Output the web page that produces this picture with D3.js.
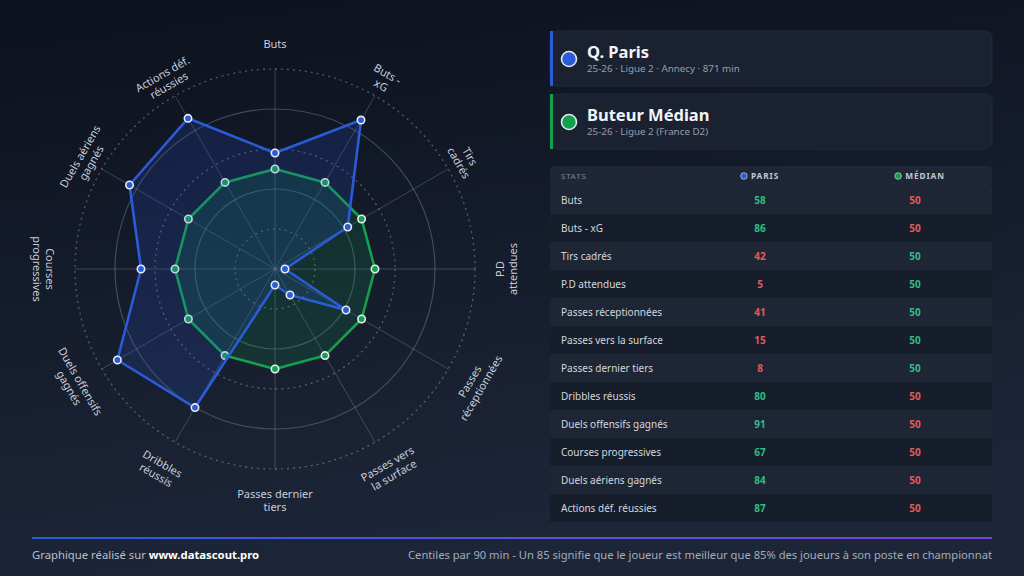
<!DOCTYPE html>
<html>
<head>
<meta charset="utf-8">
<script src="https://cdn.jsdelivr.net/npm/d3@7"></script>
<style>
  html, body { margin: 0; padding: 0; background: #131a29; }
  svg { display: block; font-family: "Noto Sans", "Open Sans", sans-serif; }
</style>
</head>
<body>
<svg id="chart" width="1024" height="576"></svg>
<script>
// stats, in the order they go round the radar (clockwise from the top)
var stats = ["Buts", "Buts - xG", "Tirs cadrés", "P.D attendues", "Passes réceptionnées",
  "Passes vers la surface", "Passes dernier tiers", "Dribbles réussis", "Duels offensifs gagnés",
  "Courses progressives", "Duels aériens gagnés", "Actions déf. réussies"];
var radarLabels = [["Buts"], ["Buts -", "xG"], ["Tirs", "cadrés"], ["P.D", "attendues"],
  ["Passes", "réceptionnées"], ["Passes vers", "la surface"], ["Passes dernier", "tiers"],
  ["Dribbles", "réussis"], ["Duels offensifs", "gagnés"], ["Courses", "progressives"],
  ["Duels aériens", "gagnés"], ["Actions déf.", "réussies"]];
var parisValues = [58, 86, 42, 5, 41, 15, 8, 80, 91, 67, 84, 87];
var medianValues = [50, 50, 50, 50, 50, 50, 50, 50, 50, 50, 50, 50];
var ringTicks = [20, 40, 60, 80, 100];

var players = [
  { name: "Q. Paris", sub: "25-26 · Ligue 2 · Annecy · 871 min", color: "#2b5bd6" },
  { name: "Buteur Médian", sub: "25-26 · Ligue 2 (France D2)", color: "#14a04c" }
];

var svg = d3.select("#chart");
var defs = svg.append("defs");

var bg = defs.append("linearGradient").attr("id", "bg").attr("x1", 0).attr("y1", 0).attr("x2", 0.25).attr("y2", 1);
bg.append("stop").attr("offset", "0%").attr("stop-color", "#0c111d");
bg.append("stop").attr("offset", "100%").attr("stop-color", "#1d2639");
svg.append("rect").attr("width", 1024).attr("height", 576).attr("fill", "url(#bg)");

// ---- radar ----
var cx = 275, cy = 269, R = 200;
var r = d3.scaleLinear().domain([0, 100]).range([0, R]);
var angle = d3.scaleLinear().domain([0, stats.length]).range([0, 2 * Math.PI]);

var radar = svg.append("g").attr("transform", "translate(" + cx + "," + cy + ")");

radar.selectAll("circle.ring")
  .data(ringTicks)
  .join("circle")
  .attr("class", "ring")
  .attr("r", function(d) { return r(d); })
  .attr("fill", "none")
  .attr("stroke", function(d, i) { return i % 2 ? "rgba(190,200,215,0.28)" : "rgba(190,200,215,0.38)"; })
  .attr("stroke-width", function(d, i) { return i % 2 ? 1.2 : 1.3; })
  .attr("stroke-dasharray", function(d, i) { return i % 2 ? null : "2,4"; });

radar.selectAll("line.spoke")
  .data(stats)
  .join("line")
  .attr("class", "spoke")
  .attr("x1", 0).attr("y1", 0)
  .attr("x2", function(d, i) { return r(100) * Math.sin(angle(i)); })
  .attr("y2", function(d, i) { return -r(100) * Math.cos(angle(i)); })
  .attr("stroke", "rgba(190,200,215,0.25)")
  .attr("stroke-width", 1);

var radial = d3.lineRadial()
  .angle(function(d, i) { return angle(i); })
  .radius(function(d) { return r(d); })
  .curve(d3.curveLinearClosed);

function drawSeries(values, color, fillOpacity) {
  radar.append("path")
    .attr("d", radial(values))
    .attr("fill", color)
    .attr("fill-opacity", fillOpacity)
    .attr("stroke", color)
    .attr("stroke-width", 2.6)
    .attr("stroke-linejoin", "round");
  radar.append("g").selectAll("circle")
    .data(values)
    .join("circle")
    .attr("cx", function(d, i) { return r(d) * Math.sin(angle(i)); })
    .attr("cy", function(d, i) { return -r(d) * Math.cos(angle(i)); })
    .attr("r", 3.7)
    .attr("fill", color)
    .attr("stroke", "#e8ecf2")
    .attr("stroke-width", 1.6);
}
drawSeries(medianValues, players[1].color, 0.17);
drawSeries(parisValues, players[0].color, 0.18);

// labels, turned along the circle and flipped on the lower half
var labels = radar.selectAll("g.lab")
  .data(radarLabels)
  .join("g")
  .attr("class", "lab")
  .attr("transform", function(d, i) {
    var a = angle(i), deg = a * 180 / Math.PI;
    var rot = (deg >= 90 && deg <= 270) ? deg - 180 : deg;
    return "translate(" + (225 * Math.sin(a)) + "," + (-225 * Math.cos(a)) + ") rotate(" + rot + ")";
  });
labels.selectAll("text")
  .data(function(d) { return d; })
  .join("text")
  .attr("y", function(d, i) { return i * 13; })
  .attr("dy", "0.35em")
  .attr("text-anchor", "middle")
  .attr("fill", "#c9ced8")
  .attr("font-size", 11)
  .text(function(d) { return d; });

// ---- player cards ----
var cards = svg.selectAll("g.card")
  .data(players)
  .join("g")
  .attr("class", "card")
  .attr("transform", function(d, i) { return "translate(550," + (31 + i * 63) + ")"; });
cards.append("rect")
  .attr("width", 442).attr("height", 55).attr("rx", 7)
  .attr("fill", "#1a2131").attr("stroke", "#222a3a");
cards.append("rect")
  .attr("width", 3).attr("height", 55)
  .attr("fill", function(d) { return d.color; });
cards.append("circle")
  .attr("cx", 19).attr("cy", 28).attr("r", 7.5)
  .attr("fill", function(d) { return d.color; })
  .attr("stroke", "#e4e8ee").attr("stroke-width", 1.6);
cards.append("text")
  .attr("x", 37).attr("y", 27)
  .attr("fill", "#f2f4f8").attr("font-size", 16.5).attr("font-weight", 700)
  .text(function(d) { return d.name; });
cards.append("text")
  .attr("x", 37).attr("y", 41)
  .attr("fill", "#959dac").attr("font-size", 9.8)
  .text(function(d) { return d.sub; });

// ---- table ----
var tx0 = 550, tx1 = 992, colParis = 760, colMed = 915;
var rowY = d3.scaleBand().domain(stats).range([186, 522]);

svg.append("rect")
  .attr("x", tx0).attr("y", 166).attr("width", tx1 - tx0).attr("height", 20).attr("rx", 4)
  .attr("fill", "#1f2737");
svg.append("text").attr("x", 561).attr("y", 176).attr("dy", "0.35em")
  .attr("fill", "#7f8898").attr("font-size", 7.8).attr("letter-spacing", 0.9).text("STATS");
var heads = [{ x: colParis, label: "PARIS", color: players[0].color }, { x: colMed + 5, label: "MÉDIAN", color: players[1].color }];
heads.forEach(function(h) {
  var g = svg.append("g").attr("transform", "translate(" + h.x + ",176)");
  var t = g.append("text").attr("x", 5).attr("dy", "0.35em")
    .attr("fill", "#c3c8d2").attr("font-size", 8.3).attr("font-weight", 700).attr("letter-spacing", 0.9)
    .attr("text-anchor", "middle").text(h.label);
  var w = t.node().getComputedTextLength();
  g.append("circle").attr("cx", 5 - w / 2 - 7).attr("cy", 0).attr("r", 3.3)
    .attr("fill", h.color).attr("stroke", "#c3c8d2").attr("stroke-width", 0.8);
});

var rows = svg.selectAll("g.row")
  .data(stats)
  .join("g")
  .attr("class", "row")
  .attr("transform", function(d) { return "translate(0," + rowY(d) + ")"; });
rows.append("rect")
  .attr("x", tx0).attr("width", tx1 - tx0).attr("height", rowY.bandwidth())
  .attr("fill", function(d, i) { return i % 2 ? "#161d2b" : "#1e2535"; });
rows.append("text")
  .attr("x", 561).attr("y", rowY.bandwidth() / 2).attr("dy", "0.35em")
  .attr("fill", "#d3d7df").attr("font-size", 10)
  .text(function(d) { return d; });
rows.append("text")
  .attr("x", colParis).attr("y", rowY.bandwidth() / 2).attr("dy", "0.35em")
  .attr("text-anchor", "middle").attr("font-size", 10).attr("font-weight", 700)
  .attr("fill", function(d, i) { return parisValues[i] >= medianValues[i] ? "#2dbd84" : "#e05c5c"; })
  .text(function(d, i) { return parisValues[i]; });
rows.append("text")
  .attr("x", colMed).attr("y", rowY.bandwidth() / 2).attr("dy", "0.35em")
  .attr("text-anchor", "middle").attr("font-size", 10).attr("font-weight", 700)
  .attr("fill", function(d, i) { return medianValues[i] > parisValues[i] ? "#2dbd84" : "#e05c5c"; })
  .text(function(d, i) { return medianValues[i]; });

// ---- footer ----
var fl = defs.append("linearGradient").attr("id", "foot");
fl.append("stop").attr("offset", "0%").attr("stop-color", "#2c5fd4");
fl.append("stop").attr("offset", "100%").attr("stop-color", "#7a45d4");
svg.append("rect").attr("x", 32).attr("y", 537).attr("width", 960).attr("height", 2).attr("fill", "url(#foot)");

var left = svg.append("text").attr("x", 32).attr("y", 559).attr("font-size", 11.3).attr("fill", "#b9bfca");
left.append("tspan").text("Graphique réalisé sur ");
left.append("tspan").attr("font-weight", 700).attr("fill", "#ffffff").text("www.datascout.pro");
svg.append("text").attr("x", 992).attr("y", 559).attr("text-anchor", "end")
  .attr("font-size", 11.2).attr("fill", "#a4abb8")
  .text("Centiles par 90 min - Un 85 signifie que le joueur est meilleur que 85% des joueurs à son poste en championnat");
</script>
</body>
</html>
